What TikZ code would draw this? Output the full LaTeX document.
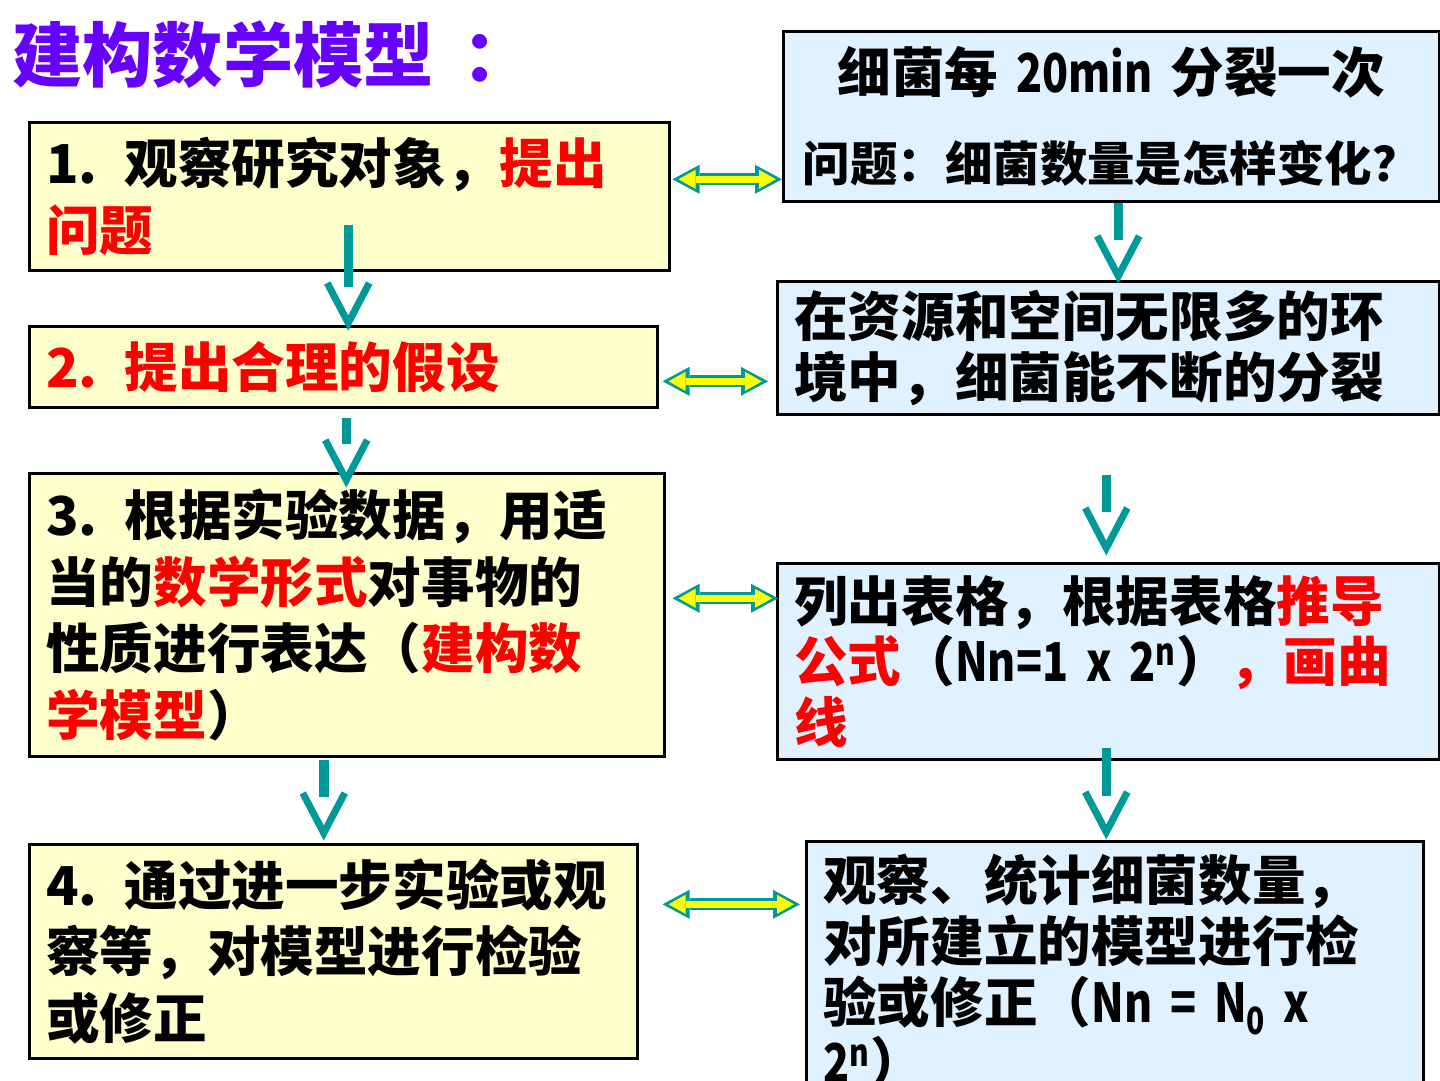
\documentclass[tikz,border=0pt]{standalone}
\usepackage{fontspec}
\setmainfont{Noto Sans CJK SC}
\newfontfamily\narrowlatin{Noto Sans CJK SC}[FakeStretch=0.8]
\usetikzlibrary{arrows.meta,calc}
\definecolor{ModelPurple}{HTML}{6600FF}
\definecolor{ModelRed}{HTML}{FF0000}
\definecolor{ModelTeal}{HTML}{009999}
\definecolor{ModelYellow}{HTML}{FFFFCC}
\definecolor{ModelBlue}{HTML}{E0F2FF}
\definecolor{ModelArrow}{HTML}{FFFF00}

\begin{document}
\begin{tikzpicture}[x=0.02cm,y=-0.02cm,
    every node/.style={font=\bfseries\fontsize{30.5pt}{38pt}\selectfont}]
    \tikzset{box/.style={draw,line width=1.5pt,inner xsep=0.34cm,inner ysep=0pt,
      align=left,anchor=north west},
      lbox/.style={box,fill=ModelYellow},
      rbox/.style={box,fill=ModelBlue,font=\bfseries\fontsize{30.5pt}{34.5pt}\selectfont},
      shaft/.style={ModelTeal,line width=0.19cm},
      vhead/.style={ModelTeal,line width=0.14cm,line join=miter},
      dblout/.style={ModelTeal,line width=0.24cm,
        {Triangle[length=0.54cm,width=0.58cm,line width=0pt]}-{Triangle[length=0.54cm,width=0.58cm,line width=0pt]}},
      dblin/.style={ModelArrow,line width=0.13cm,shorten <=0.12cm,shorten >=0.12cm,
        {Triangle[length=0.34cm,width=0.38cm,line width=0pt]}-{Triangle[length=0.34cm,width=0.38cm,line width=0pt]}}}
    \useasboundingbox[fill=white] (0,0) rectangle (1440,1080);
    \node[anchor=west,inner sep=0pt,text=ModelPurple,
      font=\bfseries\fontsize{40pt}{48pt}\selectfont] (title) at (12,55) {建构数学模型\hspace{0.4em}：};
    % left column
    \node[lbox,text width=12.12cm,minimum height=2.96cm] (obs) at (28,121)
      {1. 观察研究对象，\textcolor{ModelRed}{提出}\\\textcolor{ModelRed}{问题}};
    \node[lbox,text width=11.88cm,minimum height=1.62cm,text=ModelRed] (hyp) at (28,325)
      {2. 提出合理的假设};
    \node[lbox,text width=12.02cm,minimum height=5.66cm] (math) at (28,472)
      {3. 根据实验数据，用适\\当的\textcolor{ModelRed}{数学形式}对事物的\\性质进行表达（\textcolor{ModelRed}{建构数}\\\textcolor{ModelRed}{学模型}）};
    \node[lbox,text width=11.48cm,minimum height=4.28cm] (test) at (28,843)
      {4. 通过进一步实验或观\\察等，对模型进行检验\\或修正};
    % right column
    \node[rbox,text width=12.44cm,minimum height=3.4cm,align=center] (q) at (782,30)
      {细菌每 {\narrowlatin 20min} 分裂一次\\[16pt]\fontsize{27pt}{32pt}\selectfont 问题：细菌数量是怎样变化？};
    \node[rbox,text width=12.56cm,minimum height=2.66cm] (env) at (776,280)
      {在资源和空间无限多的环\\境中，细菌能不断的分裂};
    \node[rbox,text width=12.56cm,minimum height=3.92cm] (tab) at (776,562)
      {列出表格，根据表格\textcolor{ModelRed}{推导}\\\textcolor{ModelRed}{公式}（{\narrowlatin Nn=1 x 2\textsuperscript{n}}）\textcolor{ModelRed}{，画曲}\\\textcolor{ModelRed}{线}};
    \node[rbox,text width=11.66cm,minimum height=5.2cm] (chk) at (805,840)
      {观察、统计细菌数量，\\对所建立的模型进行检\\验或修正（{\narrowlatin Nn = N\textsubscript{0} x}\\{\narrowlatin 2\textsuperscript{n}}）};
    % step arrows
    \foreach \a/\b/\dx/\ds/\de in {obs/hyp/-1/-47/-2, hyp/math/3/9/8, math/test/-23/2/-10,
      q/env/7/0/-4, env/tab/-2/59/-14, tab/chk/-2/-13/-8}{
      \coordinate (s) at ($(\a.south)+(\dx,\ds)$);
      \coordinate (e) at ($(s |- \b.north)+(0,\de)$);
      \draw[shaft] (s) -- ($(e)+(0,-36)$);
      \draw[vhead] ($(e)+(-21,-40)$) -- (e) -- ($(e)+(21,-40)$);
    }
    % link arrows
    \foreach \a/\b/\dy/\gl/\gr in {obs/q/-17/2/0, hyp/env/14.5/4/8, math/tab/-16.5/7/-2, test/chk/-47/24/5}{
      \draw[dblout] ($(\a.east)+(\gl,\dy)$) -- ($(\a.east -| \b.west)+(-\gr,\dy)$);
      \draw[dblin] ($(\a.east)+(\gl,\dy)$) -- ($(\a.east -| \b.west)+(-\gr,\dy)$);
    }
\end{tikzpicture}
\end{document}
